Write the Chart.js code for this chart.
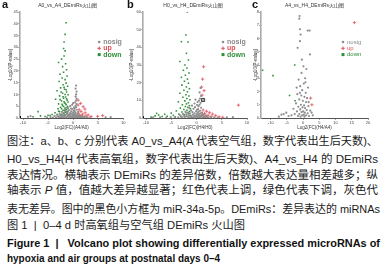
<!DOCTYPE html>
<html><head><meta charset="utf-8">
<script src="https://cdn.jsdelivr.net/npm/chart.js@4/dist/chart.umd.min.js"></script>
<style>
html,body{margin:0;padding:0;background:#fff;width:386px;height:265px;overflow:hidden;position:relative;}
canvas{position:absolute;top:0;}
.letter{position:absolute;top:-2px;font:bold 11px "Liberation Sans",Arial,sans-serif;color:#111;}
.cap{position:absolute;left:7px;height:16px;line-height:16px;font-size:11px;font-family:"Liberation Sans","Noto Sans CJK SC",sans-serif;color:#1a1a1a;white-space:nowrap;transform-origin:0 50%;}
.cap.b{font-weight:bold;color:#111;}
</style></head><body>
<canvas id="ca" width="128" height="132" style="left:0;width:128px;height:132px"></canvas>
<canvas id="cb" width="128" height="132" style="left:124px;width:128px;height:132px"></canvas>
<canvas id="cc" width="132" height="132" style="left:248px;width:132px;height:132px"></canvas>
<div class="letter" style="left:2px">a</div>
<div class="letter" style="left:127px">b</div>
<div class="letter" style="left:252px">c</div>
<div id="caption"></div>
<script>
// ---- series names and titles ----
const seriesNames = ['nosig', 'up', 'down'];
const panelTitles = ['A0_vs_A4_DEmiRs火山图', 'H0_vs_H4_DEmiRs火山图', 'A4_vs_H4_DEmiRs火山图'];
const xTitles = ['Log2(FC)(A4/A0)', 'Log2(FC)(H4/H0)', 'Log2(FC)(H4/A4)'];
const yTitle = '-Log10(P-value)';

// ---- tick labels ----
const aXTicks = [-10, -5, 0, 5, 10];
const aYTicks = [0, 5, 10, 15, 20, 25, 30, 35, 40, 45];
const bXTicks = [-10, -5, 0, 5, 10];
const bYTicks = [0, 10, 20, 30, 40, 50, 60];
const cXTicks = [-10, -5, 0, 5, 10, 15, 20];
const cYTicks = [0, 1, 2, 3, 4, 5, 6, 7, 8];

// ---- panel a: A0 vs A4 ----
const aNosig = [[0.6,13.8],[0.5,12.5],[0.7,11.2],[0.6,10.0],[0.5,9.1],[0.7,8.2],[0.6,7.4],[0.4,6.6],[0.7,5.9],[0.5,5.2],[0.6,4.6],[0.3,4.0],
 [-3.4,0.3],[-3.0,0.6],[-2.8,0.2],[-2.6,1.0],[-2.4,0.4],[-2.3,0.8],[-2.1,1.5],[-2.0,0.3],[-1.9,0.9],[-1.8,2.2],[-1.7,0.5],[-1.6,1.2],[-1.5,3.0],[-1.4,0.2],[-1.3,1.7],[-1.2,0.7],[-1.1,2.5],[-1.0,1.1],[-0.9,0.4],[-0.8,3.4],[-0.8,1.6],[-0.7,0.8],[-0.6,2.1],[-0.5,0.3],[-0.5,1.3],[-0.4,2.8],[-0.3,0.6],[-0.3,1.9],[-0.2,3.9],[-0.1,1.0],[-0.1,0.2],[0.0,2.4],[0.0,1.5],[0.1,0.5],[0.1,3.2],[0.2,1.1],[0.2,2.0],[0.3,0.3],[0.3,2.9],[0.4,1.4],[0.5,0.7],[0.5,2.3],[0.6,1.0],[0.7,3.5],[0.7,0.4],[0.8,1.7],[0.9,0.9],[1.0,2.6],[1.0,0.3],[1.1,1.3],[1.2,0.6],[1.3,0.2],[1.5,0.5],[1.7,0.3],[2.0,0.2],[2.3,0.4],[2.8,0.3],[3.3,0.2],
 [-4.0,0.2],[-4.5,0.4],[-5.2,0.3],[-3.7,0.9],[-3.2,1.4],[-2.7,1.8],[-2.2,2.6],[-1.6,3.6],[-1.0,4.2],[-0.6,5.0],[-0.2,5.6],[0.2,4.5],[-0.4,4.0],[0.0,6.3],[-0.9,0.1],[0.4,0.1],[-1.5,0.1],[-2.5,0.1],[1.8,0.9],[-8.5,0.8],[-9.0,0.5],[7.5,0.4],[6.5,0.3]];
const aUp = [[1.0,7.6],[2.0,4.8],[2.35,3.8],[1.2,3.5],[1.6,2.8],[2.4,2.2],[1.1,2.0],[1.9,1.6],[3.0,1.3],[1.4,1.1],[2.6,0.9],[4.9,0.7],[5.9,1.0],[3.6,0.6],[1.3,0.8],[2.2,0.5],[1.0,5.5],[1.5,6.2]];
const aDown = [[-1.4,40.4],[-1.6,35.5],[-1.8,32.3],[-1.9,29.5],[-1.6,28.5],[-1.8,26.3],[-2.3,25.0],[-2.9,23.6],[-1.5,23.0],[-2.1,21.8],[-1.3,20.5],[-1.9,19.4],[-2.6,18.6],[-1.2,17.8],[-2.2,17.0],[-1.6,16.3],[-2.8,15.5],[-1.4,14.8],[-2.0,14.1],[-1.1,13.5],[-2.5,12.8],[-1.7,12.2],[-3.2,11.6],[-1.3,11.0],[-2.1,10.5],[-1.0,9.9],[-2.7,9.4],[-1.5,8.9],[-1.9,8.4],[-3.5,8.0],[-1.2,7.6],[-2.3,7.2],[-1.0,6.8],[-1.7,6.4],[-2.9,6.0],[-1.4,5.6],[-2.1,5.3],[-1.1,4.9],[-2.5,4.6],[-1.6,4.2],[-3.0,3.9],[-1.3,3.6],[-2.0,3.3],[-1.0,3.0],[-2.7,2.7],[-1.5,2.4],[-3.6,2.2],[-1.9,2.0],[-1.2,1.8],[-2.4,1.6],[-4.2,1.5],[-1.7,1.4],[-3.1,1.3],[-5.0,1.2],[-6.5,0.9],[-7.0,2.7],[-5.6,0.6],[-4.6,1.1],[-2.2,1.1],[-8.0,0.5],
 [-1.8,13.0],[-1.4,12.0],[-2.4,11.0],[-1.6,10.0],[-2.0,9.0],[-1.3,8.2],[-2.6,7.8],[-1.8,6.9],[-1.5,6.1],[-2.2,5.8],[-1.9,4.9],[-1.2,4.4],[-2.3,3.9],[-1.7,3.1],[-2.9,2.9],[-1.4,2.6]];
const aMarked = [[-10.6,0.4]];

// ---- panel b: H0 vs H4 ----
const bNosig = [[0.8,17],[0.6,14.5],[0.9,12.5],[0.7,11],[0.5,9.8],[0.8,8.6],[0.6,7.5],[0.4,6.6],[0.9,5.8],[0.3,5.0],[1.3,10.2],
 [-3.6,0.4],[-3.1,0.8],[-2.8,0.3],[-2.5,1.3],[-2.3,0.6],[-2.0,2.0],[-1.9,0.9],[-1.7,3.1],[-1.6,0.4],[-1.5,1.6],[-1.3,2.6],[-1.2,0.7],[-1.1,4.2],[-1.0,1.2],[-0.9,0.3],[-0.8,3.3],[-0.7,1.9],[-0.6,5.2],[-0.5,0.8],[-0.4,2.7],[-0.3,1.4],[-0.3,6.1],[-0.2,0.4],[-0.1,3.8],[0.0,2.1],[0.0,1.0],[0.1,4.6],[0.2,0.6],[0.2,2.9],[0.3,1.6],[0.4,3.6],[0.4,0.3],[0.5,2.2],[0.6,1.1],[0.7,4.1],[0.7,0.5],[0.8,2.6],[0.9,1.4],[1.0,0.7],[1.1,3.0],[1.2,1.8],[1.3,0.4],[1.5,1.0],[1.7,0.3],[2.0,0.6],[2.4,0.2],[2.9,0.4],[3.5,0.3],[4.2,0.2],[-4.3,0.3],[-5.1,0.5],[-6.0,0.2],[-1.4,5.6],[-0.9,7.0],[-0.4,8.2],[0.1,7.3],[0.2,9.0],[-0.2,10.4],[-2.2,3.5],[-2.7,2.3],[-3.3,1.7],[-0.6,0.1],[0.3,0.1],[-1.4,0.1],[1.9,1.3],[-7.2,0.4],[-8.6,0.3],[6.0,0.3],[7.2,0.5]];
const bUp = [[1.4,29],[1.2,22],[1.0,17.5],[1.5,15.5],[1.1,13],[8.3,7.3],[1.3,4.5],[2.0,3.8],[2.6,3.0],[1.6,2.6],[3.2,2.2],[1.2,2.0],[2.3,1.6],[3.8,1.3],[1.8,1.1],[2.9,0.9],[1.4,0.7],[4.5,0.6],[2.1,0.5],[5.2,0.4]];
const bDown = [[-1.8,60],[-2.1,47],[-3.0,43.2],[-1.7,43],[-2.0,36.6],[-1.6,32.8],[-3.3,32],[-2.3,30],[-1.9,28.3],[-2.6,27],[-1.5,25.5],[-2.2,24.2],[-3.0,23],[-1.8,22],[-2.4,20.8],[-1.6,19.7],[-2.9,18.6],[-2.0,17.6],[-1.4,16.6],[-2.5,15.7],[-1.8,14.8],[-3.3,14],[-2.1,13.2],[-1.5,12.4],[-2.7,11.7],[-1.9,11],[-1.3,10.3],[-2.3,9.7],[-3.6,9.1],[-1.6,8.6],[-2.0,8.0],[-2.8,7.5],[-1.4,7.0],[-2.2,6.5],[-1.7,6.0],[-3.2,5.6],[-1.2,5.2],[-2.5,4.8],[-1.9,4.4],[-4.0,4.0],[-1.4,3.7],[-2.9,3.4],[-2.1,3.1],[-5.0,2.8],[-1.6,2.5],[-3.5,2.3],[-6.3,2.1],[-2.4,1.9],[-7.5,1.7],[-4.6,1.5],[-1.3,1.4],[-8.2,1.2],[-5.8,1.0],[-3.0,0.9],[-6.8,0.8],[-4.2,0.6],[-9.0,0.5],[-2.0,1.1],[-7.9,2.6]];
const bMarkedDot = [[-10.6,0.5]];
const bMarkedBox = [[1.3,10.2]];

// ---- panel c: A4 vs H4 ----
const cNosig = [[-1.1,7.7],[-1.2,7.5],[-1.0,6.7],[-0.8,6.3],[-1.0,5.8],[1.4,6.6],[2.0,6.6],[-1.7,5.3],[2.1,4.8],[1.0,3.7],[0.6,3.0],[-0.5,3.4],[-1.4,2.9],[0.2,2.6],[-0.9,2.4],[1.5,2.3],[-0.3,2.1],[0.8,1.9],[-1.8,1.8],[-0.6,1.7],[0.4,1.6],[1.2,1.5],[-1.2,1.4],[-0.1,1.3],[0.9,1.2],[-2.2,1.1],[-0.7,1.0],[0.3,0.95],[1.6,0.9],[-1.5,0.85],[-0.2,0.8],[0.6,0.75],[-3.0,0.7],[-0.9,0.65],[1.1,0.6],[2.2,0.55],[0.0,0.5],[-1.9,0.5],[-0.5,0.45],[0.5,0.4],[1.4,0.35],[-2.6,0.3],[-1.2,0.3],[0.2,0.25],[0.9,0.2],[-0.3,0.2],[-1.6,0.15],[1.8,0.15],[-3.6,0.2],[-4.5,0.15],[-6.0,0.3],[-6.7,0.25],[3.0,0.2],[2.6,0.4],[-0.8,0.1],[0.4,0.1],[-2.0,2.3],[0.1,3.9],[-0.4,4.4],[1.7,1.2],[-1.0,1.9],[0.7,2.7],[-7.5,0.1],[-5.2,0.4]];
const cUp = [[15.8,7.2],[2.3,1.5],[2.7,1.0]];
const cDown = [[-2.6,4.0],[-9.3,3.2],[-12.5,3.6],[-4.2,1.7],[-2.5,1.3]];

// ---- caption ----
const captionLines = [
 '图注：a、b、c 分别代表 A0_vs_A4(A 代表空气组，数字代表出生后天数)、',
 'H0_vs_H4(H 代表高氧组，数字代表出生后天数)、A4_vs_H4 的 DEmiRs',
 '表达情况。横轴表示 DEmiRs 的差异倍数，倍数越大表达量相差越多；纵',
 '轴表示 <i>P</i> 值，值越大差异越显著；红色代表上调，绿色代表下调，灰色代',
 '表无差异。图中的黑色小方框为 miR-34a-5p。DEmiRs：差异表达的 miRNAs',
 '图 1&nbsp;&nbsp;|&nbsp;&nbsp;0–4 d 时高氧组与空气组 DEmiRs 火山图',
 'Figure 1&nbsp;&nbsp;|&nbsp;&nbsp;&nbsp;Volcano plot showing differentially expressed microRNAs of',
 'hypoxia and air groups at postnatal days 0–4'
];
const capTop = [133, 151, 167, 182, 201, 217, 235, 250];
const capWidth = [371, 371, 371, 371, 373, 238, 373, 213];
const capBold = [false, false, false, false, false, false, true, true];

const cap = document.getElementById('caption');
captionLines.forEach((t, i) => {
  const d = document.createElement('div');
  d.className = 'cap' + (capBold[i] ? ' b' : '');
  d.style.top = capTop[i] + 'px';
  d.innerHTML = t;
  cap.appendChild(d);
  const w = d.getBoundingClientRect().width;
  d.style.transform = 'scaleX(' + (capWidth[i] / w) + ')';
});

// legend inside the plot, and title centred over the plot area
const cornerLegend = {
  id: 'cornerLegend',
  afterDatasetsDraw(chart, args, o) {
    const ctx = chart.ctx, ca = chart.chartArea;
    ctx.save();
    ctx.font = '5px "Liberation Sans","Noto Sans CJK SC"';
    ctx.fillStyle = '#333';
    ctx.textAlign = 'center';
    ctx.textBaseline = 'middle';
    ctx.fillText(o.title, (ca.left + ca.right) / 2 + o.titleDx, 6);
    const x0 = ca.right + o.dx, y0 = ca.top + o.dy;
    ctx.font = o.font;
    ctx.textAlign = 'left';
    chart.data.datasets.forEach((ds, i) => {
      if (!ds.inLegend) return;
      const y = y0 + i * o.gap;
      if (ds.pointStyle === 'circle') {
        ctx.fillStyle = ds.backgroundColor;
        ctx.beginPath(); ctx.arc(x0, y, 1.3, 0, Math.PI * 2); ctx.fill();
      } else if (ds.pointStyle === 'cross') {
        ctx.strokeStyle = ds.borderColor; ctx.lineWidth = 1;
        ctx.beginPath(); ctx.moveTo(x0 - 1.8, y); ctx.lineTo(x0 + 1.8, y);
        ctx.moveTo(x0, y - 1.8); ctx.lineTo(x0, y + 1.8); ctx.stroke();
      } else {
        ctx.fillStyle = ds.backgroundColor; ctx.fillRect(x0 - 1.5, y - 1.5, 3, 3);
      }
      ctx.fillStyle = ds.legendColor;
      ctx.fillText(ds.label, x0 + o.textGap, y);
    });
    ctx.restore();
  }
};

function pts(arr) { return arr.map(([x, y]) => ({ x, y })); }

function makeChart(id, p) {
  return new Chart(document.getElementById(id), {
    type: 'scatter',
    data: {
      datasets: [
        { label: seriesNames[0], data: pts(p.nosig), pointStyle: 'circle', pointRadius: 1.1, backgroundColor: '#8e8e8e', borderColor: '#8e8e8e', borderWidth: 0, inLegend: true, legendColor: '#8a8a8a' },
        { label: seriesNames[1], data: pts(p.up), pointStyle: 'cross', pointRadius: 1.6, backgroundColor: '#e0505a', borderColor: '#e0505a', borderWidth: 0.8, inLegend: true, legendColor: '#e0505a' },
        { label: seriesNames[2], data: pts(p.down), pointStyle: 'rect', pointRadius: 1.1, backgroundColor: '#2f8f3a', borderColor: '#2f8f3a', borderWidth: 0, inLegend: true, legendColor: '#2f8f3a' },
        { label: 'dot', data: pts(p.dot), pointStyle: 'rect', pointRadius: 1.4, backgroundColor: '#000', borderColor: '#000', borderWidth: 0, inLegend: false },
        { label: 'miR-34a-5p', data: pts(p.box), pointStyle: 'rect', pointRadius: 2.2, backgroundColor: 'rgba(0,0,0,0)', borderColor: '#111', borderWidth: 0.8, inLegend: false }
      ]
    },
    options: {
      responsive: false, animation: false, devicePixelRatio: 1,
      layout: { padding: { left: 0, right: p.padRight, top: 12, bottom: 0 } },
      plugins: {
        legend: { display: false }, tooltip: { enabled: false }, title: { display: false },
        cornerLegend: p.legend
      },
      scales: {
        x: {
          type: 'linear', min: p.xMin, max: p.xMax,
          afterFit(s) { s.height = 14; },
          afterBuildTicks(s) { s.ticks = p.xTicks.map(v => ({ value: v })); },
          grid: { drawOnChartArea: false, drawTicks: true, tickLength: 2, color: '#666', lineWidth: 0.6 },
          border: { display: true, color: '#555', width: 1 },
          ticks: { font: { size: 4, family: 'Liberation Sans' }, color: '#444', padding: 0, maxRotation: 0, autoSkip: false },
          title: { display: true, text: p.xTitle, font: { size: 4.5, family: 'Liberation Sans' }, color: '#333', padding: { top: 0, bottom: 2 } }
        },
        y: {
          type: 'linear', min: 0, max: p.yMax,
          afterFit(s) { s.width = p.yWidth; },
          afterBuildTicks(s) { s.ticks = p.yTicks.map(v => ({ value: v })); },
          grid: { drawOnChartArea: false, drawTicks: true, tickLength: 2, color: '#777', lineWidth: 0.6 },
          border: { display: true, color: '#aaa', width: 1.6 },
          ticks: { font: { size: 4, family: 'Liberation Sans' }, color: '#444', padding: 0, autoSkip: false },
          title: { display: true, text: yTitle, font: { size: 4.5, family: 'Liberation Sans' }, color: '#333', padding: { top: p.yTitlePad, bottom: 0 } }
        }
      }
    },
    plugins: [cornerLegend]
  });
}

makeChart('ca', { xTitle: xTitles[0], xMin: -10.6, xMax: 10, xTicks: aXTicks, yMax: 45, yTicks: aYTicks,
  nosig: aNosig, up: aUp, down: aDown, dot: aMarked, box: [], yWidth: 20, padRight: 4, yTitlePad: 8,
  legend: { title: panelTitles[0], titleDx: -4, dx: -24, dy: 30, gap: 6.3, textGap: 4, font: 'bold 7px "Liberation Sans"' } });
makeChart('cb', { xTitle: xTitles[1], xMin: -10.6, xMax: 10, xTicks: bXTicks, yMax: 60, yTicks: bYTicks,
  nosig: bNosig, up: bUp, down: bDown, dot: bMarkedDot, box: bMarkedBox, yWidth: 19, padRight: 5, yTitlePad: 5,
  legend: { title: panelTitles[1], titleDx: -2, dx: -24, dy: 30, gap: 6.3, textGap: 4, font: 'bold 7px "Liberation Sans"' } });
makeChart('cc', { xTitle: xTitles[2], xMin: -13, xMax: 20, xTicks: cXTicks, yMax: 8, yTicks: cYTicks,
  nosig: cNosig, up: cUp, down: cDown, dot: [], box: [], yWidth: 13, padRight: 12, yTitlePad: 5,
  legend: { title: panelTitles[2], titleDx: 0, dx: -25, dy: 30, gap: 6.3, textGap: 4, font: '6px "Liberation Sans"' } });
</script>
</body></html>
